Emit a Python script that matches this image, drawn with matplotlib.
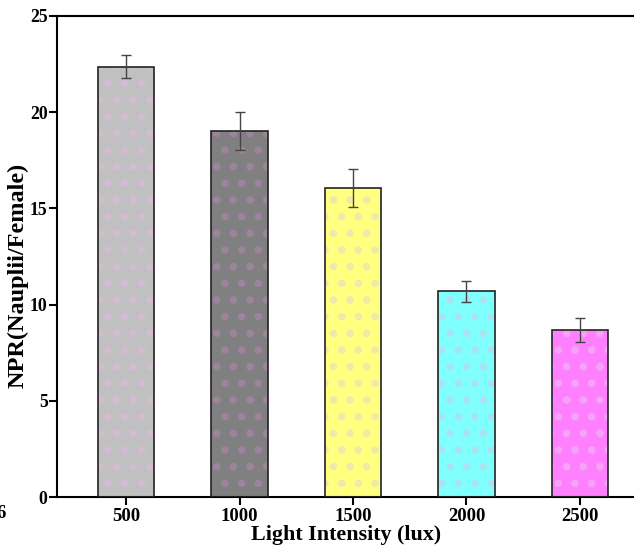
import numpy as np
import matplotlib
matplotlib.use('Agg')
import matplotlib.pyplot as plt

# data
intensity = ['500', '1000', '1500', '2000', '2500']
npr = [22.35, 19.02, 16.05, 10.68, 8.68]
npr_err = [0.6, 1.0, 1.0, 0.55, 0.6]
bar_colors = ['#c0c0c0', '#808080', '#ffff80', '#80ffff', '#ff80ff']
dot_colors = ['#d2bcd2', '#9c849c', '#eeeaa8', '#a8e4f0', '#f4a4f4']

plt.rcParams['font.family'] = ['Liberation Serif', 'DejaVu Serif']
plt.rcParams['font.weight'] = 'bold'
plt.rcParams['hatch.linewidth'] = 3

fig = plt.figure(figsize=(6.34, 5.48), dpi=100)
ax = fig.add_axes([0.0905, 0.093, 0.9095, 0.878])

x = np.arange(len(intensity))
for i in range(len(x)):
    plt.rcParams['hatch.color'] = dot_colors[i]
    ax.bar(x[i], npr[i], width=0.5, color=bar_colors[i], hatch='.', edgecolor=dot_colors[i], linewidth=0, zorder=2)
ax.bar(x, npr, width=0.5, facecolor='none', edgecolor='#222222', linewidth=1.2, zorder=3)
ax.errorbar(x, npr, yerr=npr_err, fmt='none', ecolor='#444444', elinewidth=1, capsize=3.6, capthick=1, zorder=4)

ax.set_xlim(-0.605, 4.476)
ax.set_ylim(0, 25)
ax.set_yticks([0, 5, 10, 15, 20, 25])
ax.set_xticks(x)
ax.set_xticklabels(intensity)
ax.tick_params(axis='both', direction='out', length=6, width=1.5, labelsize=13.5)
ax.tick_params(axis='y', pad=1, labelsize=12.8)
ax.tick_params(axis='x', pad=2)
for s in ax.spines.values():
    s.set_linewidth(1.5)
ax.spines['right'].set_visible(False)

ax.set_ylabel('NPR(Nauplii/Female)', fontsize=17.5, fontweight='bold')
ax.yaxis.set_label_coords(-0.05, 0.4615)
ax.set_xlabel('Light Intensity (lux)', fontsize=15.8, fontweight='bold', labelpad=0)
fig.text(-0.006, 0.055, '6', fontsize=13.5, fontweight='bold')

fig.savefig('out.png', dpi=100)
